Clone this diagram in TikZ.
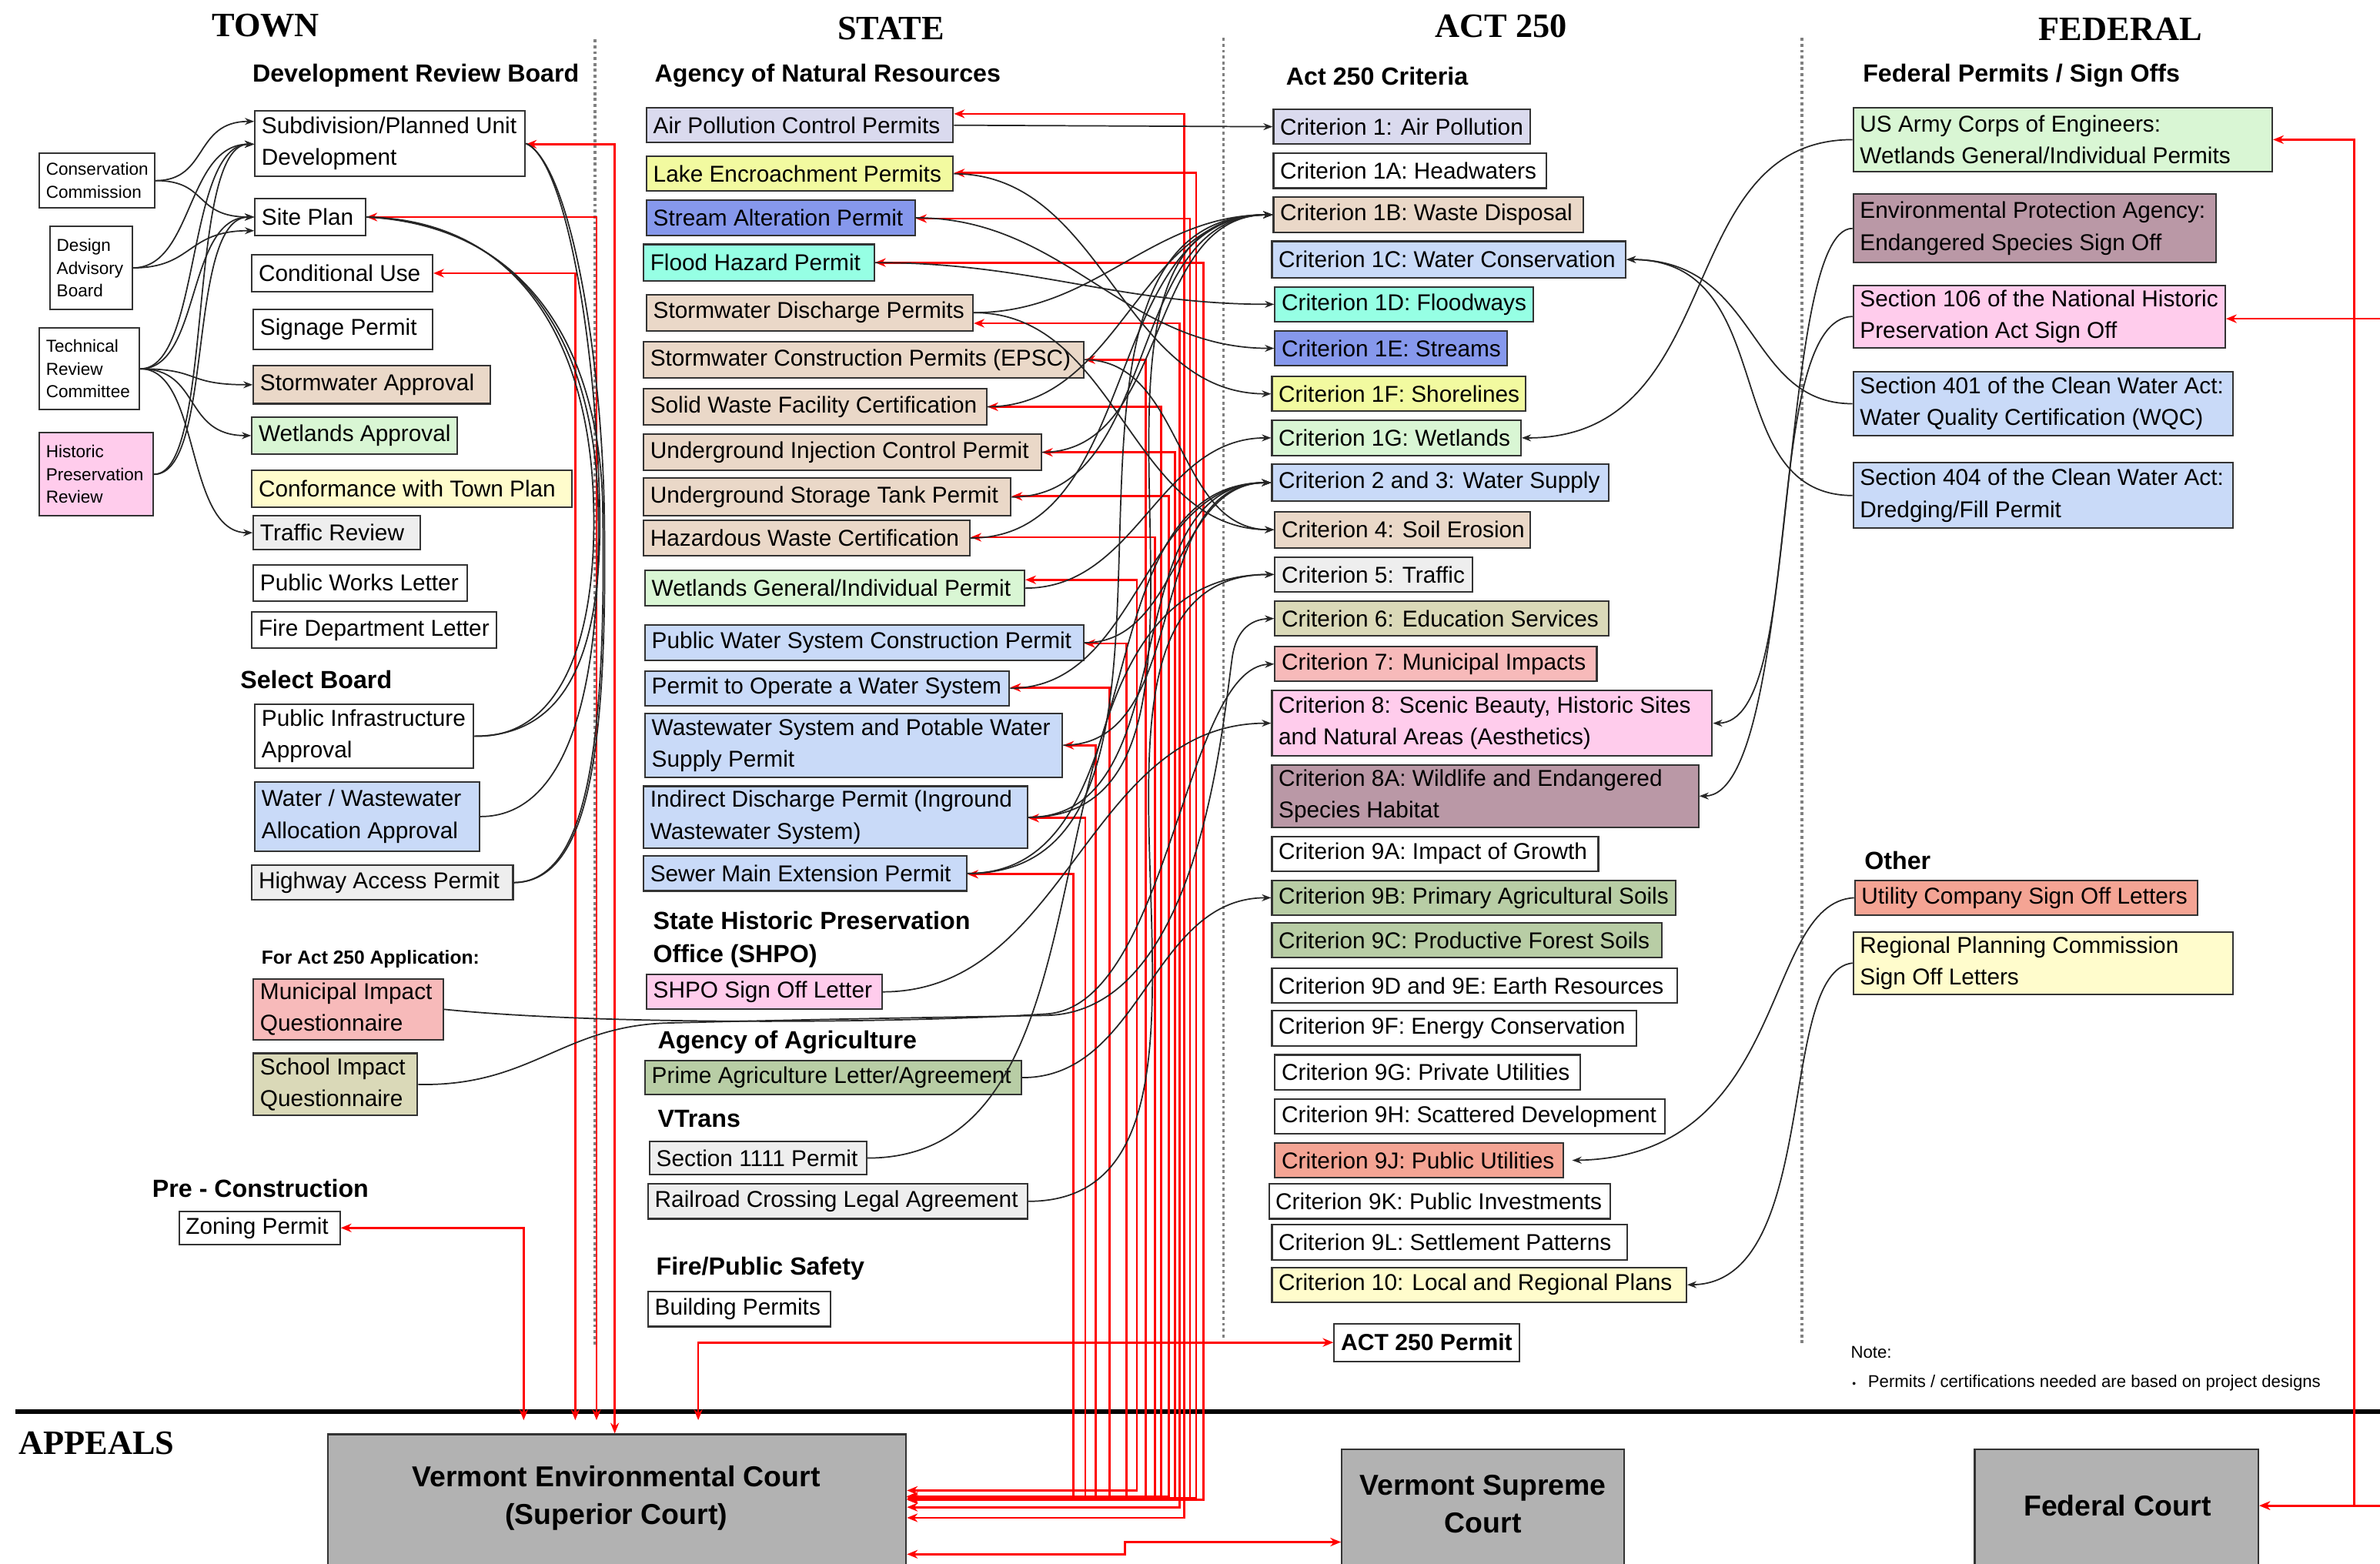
\documentclass[tikz,border=0pt]{standalone}
\usepackage{fontspec}
\setmainfont{Liberation Sans}
\newfontfamily\titlefont{Liberation Serif}
\usetikzlibrary{arrows.meta,calc}
\definecolor{cTan}{RGB}{234,216,200}
\definecolor{cLGreen}{RGB}{217,246,212}
\definecolor{cLYellow}{RGB}{255,252,204}
\definecolor{cLGray}{RGB}{238,238,238}
\definecolor{cLBlue}{RGB}{201,218,248}
\definecolor{cPinkRed}{RGB}{247,186,186}
\definecolor{cKhaki}{RGB}{218,217,184}
\definecolor{cPink}{RGB}{255,204,236}
\definecolor{cLavender}{RGB}{218,218,238}
\definecolor{cYellow}{RGB}{242,250,160}
\definecolor{cPurpleBlue}{RGB}{134,152,236}
\definecolor{cAqua}{RGB}{150,255,228}
\definecolor{cSage}{RGB}{184,205,165}
\definecolor{cMauve}{RGB}{186,152,166}
\definecolor{cSalmon}{RGB}{244,164,148}
\definecolor{cCourt}{RGB}{178,178,178}
\newcommand{\permbox}[8][]{%
  \pgfmathsetlengthmacro{\pbw}{(#5-#3)*0.02cm}%
  \pgfmathsetlengthmacro{\pbh}{(#6-#4)*0.02cm}%
  \node[pbox,fill=#7,minimum width=\pbw,minimum height=\pbh] (#2) at ({(#3+#5)/2},{(#4+#6)/2}) {};%
  \node[boxtext,#1] at ([xshift=2.6pt]#2.west) {#8};%
}
\begin{document}
\begin{tikzpicture}[x=0.02cm,y=-0.02cm,
  pbox/.style={draw=black!80, line width=0.6pt, inner sep=0pt, rectangle},
  boxtext/.style={anchor=west, align=left, inner sep=0pt, font=\fontsize{8.6}{11.9}\selectfont},
  hdr/.style={anchor=west, align=left, inner sep=0pt, font=\bfseries\fontsize{9.3}{12.6}\selectfont},
  ttl/.style={inner sep=0pt, font=\titlefont\bfseries\fontsize{12.8}{14}\selectfont},
  courttext/.style={align=center, inner sep=0pt, font=\bfseries\fontsize{10.8}{14.2}\selectfont},
  conn/.style={draw=black!85, line width=0.5pt, -{Stealth[length=3.5pt,width=2.6pt]}},
  plainl/.style={draw=black!85, line width=0.5pt},
  redl/.style={draw=red, line width=0.8pt, {Stealth[length=4pt,width=3.2pt]}-{Stealth[length=4pt,width=3.2pt]}},
  dotl/.style={draw=black!50, line width=1.1pt, dash pattern=on 1.1pt off 1.1pt},
]
\useasboundingbox[fill=white] (0,0) rectangle (1568,1030);

% ---------- titles ----------
\node[ttl] at (175,17) {TOWN};
\node[ttl] at (587,19) {STATE};
\node[ttl] at (989,17) {ACT 250};
\node[ttl] at (1397,19) {FEDERAL};
\node[ttl,anchor=west] at (12,951) {APPEALS};

% ---------- separators ----------
\draw[dotl] (392,26) -- (392,887);
\draw[dotl] (806,25) -- (806,883);
\draw[dotl] (1187,25) -- (1187,885);
\draw[line width=1.7pt] (10,930) -- (1568,930);

% ---------- headers ----------
\node[hdr] at (166,50) {Development Review Board};
\node[hdr] at (158,448) {Select Board};
\node[hdr,font=\bfseries\fontsize{7.1}{9}\selectfont] at (172,632) {For Act 250 Application:};
\node[hdr] at (100,783) {Pre - Construction};
\node[hdr] at (431,50) {Agency of Natural Resources};
\node[hdr] at (430,619) {State Historic Preservation\\Office (SHPO)};
\node[hdr] at (433,687) {Agency of Agriculture};
\node[hdr] at (433,737) {VTrans};
\node[hdr] at (432,836) {Fire/Public Safety};
\node[hdr] at (847,50) {Act 250 Criteria};
\node[hdr] at (1227,50) {Federal Permits / Sign Offs};
\node[hdr] at (1228,567) {Other};

% ---------- TOWN boxes ----------
\permbox[font=\fontsize{6.5}{8.5}\selectfont]{cc}{26}{101}{102}{137}{white}{Conservation\\Commission}
\permbox[font=\fontsize{6.5}{8.5}\selectfont]{dab}{33}{149}{87}{204}{white}{Design\\Advisory\\Board}
\permbox[font=\fontsize{6.5}{8.5}\selectfont]{trc}{26}{216}{92}{270}{white}{Technical\\Review\\Committee}
\permbox[font=\fontsize{6.5}{8.5}\selectfont]{hpr}{26}{285}{101}{340}{cPink}{Historic\\Preservation\\Review}

\permbox{subd}{168}{73}{346}{116}{white}{Subdivision/Planned Unit\\Development}
\permbox{site}{168}{131}{241}{155}{white}{Site Plan}
\permbox{cond}{166}{168}{285}{192}{white}{Conditional Use}
\permbox{sign}{167}{204}{285}{230}{white}{Signage Permit}
\permbox{stormappr}{167}{241}{323}{266}{cTan}{Stormwater Approval}
\permbox{wetappr}{166}{275}{301}{299}{cLGreen}{Wetlands Approval}
\permbox{conf}{166}{310}{377}{334}{cLYellow}{Conformance with Town Plan}
\permbox{traffic}{167}{340}{277}{362}{cLGray}{Traffic Review}
\permbox{pwl}{167}{372}{308}{396}{white}{Public Works Letter}
\permbox{fdl}{166}{403}{327}{427}{white}{Fire Department Letter}
\permbox{pia}{168}{464}{312}{506}{white}{Public Infrastructure\\Approval}
\permbox{wwa}{168}{515}{316}{561}{cLBlue}{Water / Wastewater\\Allocation Approval}
\permbox{hwy}{166}{570}{338}{593}{cLGray}{Highway Access Permit}
\permbox{miq}{167}{645}{292}{685}{cPinkRed}{Municipal Impact\\Questionnaire}
\permbox{siq}{167}{694}{275}{735}{cKhaki}{School Impact\\Questionnaire}
\permbox{zoning}{118}{798}{224}{820}{white}{Zoning Permit}

% ---------- STATE boxes ----------
\permbox{air}{426}{71}{628}{94}{cLavender}{Air Pollution Control Permits}
\permbox{lake}{426}{103}{628}{126}{cYellow}{Lake Encroachment Permits}
\permbox{stream}{426}{132}{603}{155}{cPurpleBlue}{Stream Alteration Permit}
\permbox{flood}{424}{161}{576}{185}{cAqua}{Flood Hazard Permit}
\permbox{sd}{426}{194}{641}{218}{cTan}{Stormwater Discharge Permits}
\permbox{epsc}{424}{225}{714}{249}{cTan}{Stormwater Construction Permits (EPSC)}
\permbox{solid}{424}{256}{650}{280}{cTan}{Solid Waste Facility Certification}
\permbox{uic}{424}{286}{686}{310}{cTan}{Underground Injection Control Permit}
\permbox{ust}{424}{315}{666}{340}{cTan}{Underground Storage Tank Permit}
\permbox{haz}{424}{343}{639}{366}{cTan}{Hazardous Waste Certification}
\permbox{wetp}{425}{376}{675}{399}{cLGreen}{Wetlands General/Individual Permit}
\permbox{pws}{425}{412}{714}{435}{cLBlue}{Public Water System Construction Permit}
\permbox{pto}{425}{442}{665}{465}{cLBlue}{Permit to Operate a Water System}
\permbox{wws}{425}{470}{700}{512}{cLBlue}{Wastewater System and Potable Water\\Supply Permit}
\permbox{idp}{424}{518}{677}{559}{cLBlue}{Indirect Discharge Permit (Inground\\Wastewater System)}
\permbox{sewer}{424}{564}{637}{587}{cLBlue}{Sewer Main Extension Permit}
\permbox{shpo}{426}{642}{581}{665}{cPink}{SHPO Sign Off Letter}
\permbox{prime}{425}{699}{673}{721}{cSage}{Prime Agriculture Letter/Agreement}
\permbox{sxi}{428}{752}{571}{774}{cLGray}{Section 1111 Permit}
\permbox{rail}{427}{780}{677}{803}{cLGray}{Railroad Crossing Legal Agreement}
\permbox{bldg}{427}{851}{547}{874}{white}{Building Permits}

% ---------- ACT 250 boxes ----------
\permbox{ca}{839}{72}{1008}{95}{cLavender}{Criterion 1: Air Pollution}
\permbox{caa}{839}{101}{1019}{124}{white}{Criterion 1A: Headwaters}
\permbox{cab}{839}{130}{1043}{153}{cTan}{Criterion 1B: Waste Disposal}
\permbox{cac}{838}{159}{1071}{183}{cLBlue}{Criterion 1C: Water Conservation}
\permbox{cad}{840}{189}{1010}{212}{cAqua}{Criterion 1D: Floodways}
\permbox{cae}{840}{218}{993}{241}{cPurpleBlue}{Criterion 1E: Streams}
\permbox{caf}{838}{248}{1005}{271}{cYellow}{Criterion 1F: Shorelines}
\permbox{cag}{838}{277}{1002}{300}{cLGreen}{Criterion 1G: Wetlands}
\permbox{cws}{838}{306}{1060}{330}{cLBlue}{Criterion 2 and 3: Water Supply}
\permbox{cse}{840}{337}{1008}{361}{cTan}{Criterion 4: Soil Erosion}
\permbox{ctr}{840}{367}{970}{390}{cLGray}{Criterion 5: Traffic}
\permbox{ced}{840}{396}{1060}{419}{cKhaki}{Criterion 6: Education Services}
\permbox{cmu}{840}{426}{1052}{449}{cPinkRed}{Criterion 7: Municipal Impacts}
\permbox{csc}{838}{455}{1128}{498}{cPink}{Criterion 8: Scenic Beauty, Historic Sites\\and Natural Areas (Aesthetics)}
\permbox{cwl}{838}{504}{1119}{545}{cMauve}{Criterion 8A: Wildlife and Endangered\\Species Habitat}
\permbox{cna}{838}{551}{1053}{574}{white}{Criterion 9A: Impact of Growth}
\permbox{cnb}{838}{580}{1104}{603}{cSage}{Criterion 9B: Primary Agricultural Soils}
\permbox{cnc}{838}{608}{1095}{631}{cSage}{Criterion 9C: Productive Forest Soils}
\permbox{cnd}{838}{638}{1105}{661}{white}{Criterion 9D and 9E: Earth Resources}
\permbox{cnf}{838}{666}{1078}{689}{white}{Criterion 9F: Energy Conservation}
\permbox{cng}{840}{695}{1041}{718}{white}{Criterion 9G: Private Utilities}
\permbox{cnh}{840}{724}{1097}{747}{white}{Criterion 9H: Scattered Development}
\permbox{cnj}{840}{753}{1030}{776}{cSalmon}{Criterion 9J: Public Utilities}
\permbox{cnk}{836}{780}{1061}{803}{white}{Criterion 9K: Public Investments}
\permbox{cnl}{838}{807}{1072}{830}{white}{Criterion 9L: Settlement Patterns}
\permbox{cten}{838}{835}{1111}{858}{cLYellow}{Criterion 10: Local and Regional Plans}
\permbox[font=\bfseries\fontsize{8.7}{11}\selectfont]{act}{879}{872}{1001}{897}{white}{ACT 250 Permit}

% ---------- FEDERAL boxes ----------
\permbox{usace}{1221}{71}{1497}{113}{cLGreen}{US Army Corps of Engineers:\\Wetlands General/Individual Permits}
\permbox{epa}{1221}{128}{1460}{173}{cMauve}{Environmental Protection Agency:\\Endangered Species Sign Off}
\permbox{sot}{1221}{188}{1466}{229}{cPink}{Section 106 of the National Historic\\Preservation Act Sign Off}
\permbox{sfo}{1221}{245}{1471}{287}{cLBlue}{Section 401 of the Clean Water Act:\\Water Quality Certification (WQC)}
\permbox{sff}{1221}{305}{1471}{348}{cLBlue}{Section 404 of the Clean Water Act:\\Dredging/Fill Permit}
\permbox{util}{1222}{580}{1448}{603}{cSalmon}{Utility Company Sign Off Letters}
\permbox{rpc}{1221}{614}{1471}{655}{cLYellow}{Regional Planning Commission\\Sign Off Letters}

\node[anchor=west,inner sep=0pt,font=\fontsize{6.4}{7.5}\selectfont] at (1219,891) {Note:};
\node[anchor=west,inner sep=0pt,font=\fontsize{6.4}{7.5}\selectfont] at (1220,911) {{\fontsize{4}{4}\selectfont\textbullet}\hspace{4.5pt}Permits / certifications needed are based on project designs};

% ---------- APPEALS ----------
\permbox{court}{216}{945}{597}{1035}{cCourt}{}
\permbox{supreme}{884}{955}{1070}{1035}{cCourt}{}
\permbox{fedcourt}{1301}{955}{1488}{1035}{cCourt}{}
\node[courttext] at (406,987) {Vermont Environmental Court\\(Superior Court)};
\node[courttext] at (977,991) {Vermont Supreme\\Court};
\node[courttext] at (1395,992) {Federal Court};

% ---------- red appeal routes ----------
\coordinate (ctop) at ([yshift=5pt]court.north);
\draw[redl] (subd.east |- 0,95) -- (405,95) -- (405,0 |- court.north);
\draw[redl] (site.east) -- (393,143) -- (393,0 |- ctop);
\draw[redl] (cond.east) -- (379,180) -- (379,0 |- ctop);
\draw[redl] (zoning.east) -- (345,809) -- (345,0 |- ctop);
\draw[redl] (460,0 |- ctop) -- (460,884.5) -- (act.west);

\foreach \p/\yp/\xc/\yb in {air/75/780/1000, lake/114/788/987, stream/144/784/987, flood/173/793/988,
  sd/213/777/993, epsc/237/755/986, solid/268/765/986, uic/298/774/988, ust/327/770/986,
  haz/354/761/988, wetp/382/749/982, pws/424/742/986, pto/453/731/988, wws/491/722/986,
  idp/539/715/988, sewer/576/707/986}
  \draw[redl] (\p.east |- 0,\yp) -- (\xc,\yp) -- (\xc,\yb) -- (court.east |- 0,\yb);

\draw[redl] (court.east |- 0,1024) -- (741,1024) -- (741,1016) -- (supreme.west |- 0,1016);
\draw[redl] (usace.east) -- (1551,92) -- (1551,992) -- (fedcourt.east |- 0,992);
\draw[redl] (sot.east |- 0,210) -- (1585,210) -- (1585,992) -- (fedcourt.east |- 0,992);

% ---------- town review connectors ----------
\draw[conn] (cc.east) .. controls +(35,0) and +(-40,0) .. (subd.west |- 0,80);
\draw[conn] (cc.east) .. controls +(35,0) and +(-40,0) .. (site.west |- 0,143);
\draw[conn] (dab.east) .. controls +(40,0) and +(-45,0) .. (subd.west |- 0,95);
\draw[conn] (dab.east) .. controls +(40,0) and +(-45,0) .. (site.west |- 0,152);
\draw[conn] (trc.east) .. controls +(40,0) and +(-45,0) .. (subd.west |- 0,95);
\draw[conn] (trc.east) .. controls +(40,0) and +(-45,0) .. (site.west |- 0,143);
\draw[conn] (trc.east) .. controls +(40,0) and +(-45,0) .. (stormappr.west);
\draw[conn] (trc.east) .. controls +(40,0) and +(-45,0) .. (wetappr.west);
\draw[conn] (trc.east) .. controls +(40,0) and +(-45,0) .. (traffic.west);
\draw[conn] (hpr.east) .. controls +(40,0) and +(-45,0) .. (subd.west |- 0,95);
\draw[conn] (hpr.east) .. controls +(40,0) and +(-45,0) .. (site.west |- 0,143);

\draw[plainl] (site.east) .. controls (345,145) and (388,230) .. (391,330) .. controls (394,430) and (365,487) .. (pia.east);
\draw[plainl] (site.east) .. controls (348,147) and (391,232) .. (394,330) .. controls (397,460) and (372,538) .. (wwa.east);
\draw[plainl] (site.east) .. controls (351,149) and (394,234) .. (397,330) .. controls (400,500) and (385,581) .. (hwy.east);
\draw[plainl] (subd.east) .. controls (372,105) and (392,220) .. (395,330) .. controls (398,440) and (368,485) .. (pia.east);
\draw[plainl] (subd.east) .. controls (374,107) and (395,222) .. (398,330) .. controls (401,500) and (387,581) .. (hwy.east);

% ---------- questionnaires to criteria ----------
\draw[conn] (miq.east) .. controls (400,676) and (600,674) .. (690,668) .. controls (770,662) and (780,440) .. (cmu.west);
\draw[conn] (siq.east) .. controls (350,716) and (370,676) .. (440,674) .. controls (560,671) and (640,670) .. (690,669) .. controls (790,666) and (805,480) .. (812,432) .. controls (815,414) and (825,408) .. (ced.west);

% ---------- state permits to criteria ----------
\draw[conn] (air.east) -- (ca.west);
\foreach \a/\b in {lake/caf, stream/cae, flood/cad, sd/cab, sd/cse, epsc/cse, solid/cab, uic/cab,
  ust/cab, haz/cab, wetp/cag, pws/cws, pto/cws, wws/cws, idp/cws, idp/cab, sewer/cab, sewer/cws,
  shpo/csc, prime/cnb, sxi/ctr, rail/ctr}
  \draw[conn] (\a.east) to[out=0,in=180] (\b.west);

% ---------- federal / other to criteria ----------
\draw[conn] (usace.west) .. controls (1100,92) and (1140,289) .. (cag.east);
\draw[conn] (sfo.west) .. controls (1150,266) and (1160,171) .. (cac.east);
\draw[conn] (sff.west) .. controls (1130,326) and (1175,171) .. (cac.east);
\draw[conn] (epa.west) .. controls (1170,150) and (1185,524) .. (cwl.east);
\draw[conn] (sot.west) .. controls (1160,210) and (1190,476) .. (csc.east);
\draw[conn] (util.west) .. controls (1160,595) and (1180,762) .. ([xshift=3pt]cnj.east);
\draw[conn] (rpc.west) .. controls (1170,640) and (1200,845) .. (cten.east);
\end{tikzpicture}
\end{document}
